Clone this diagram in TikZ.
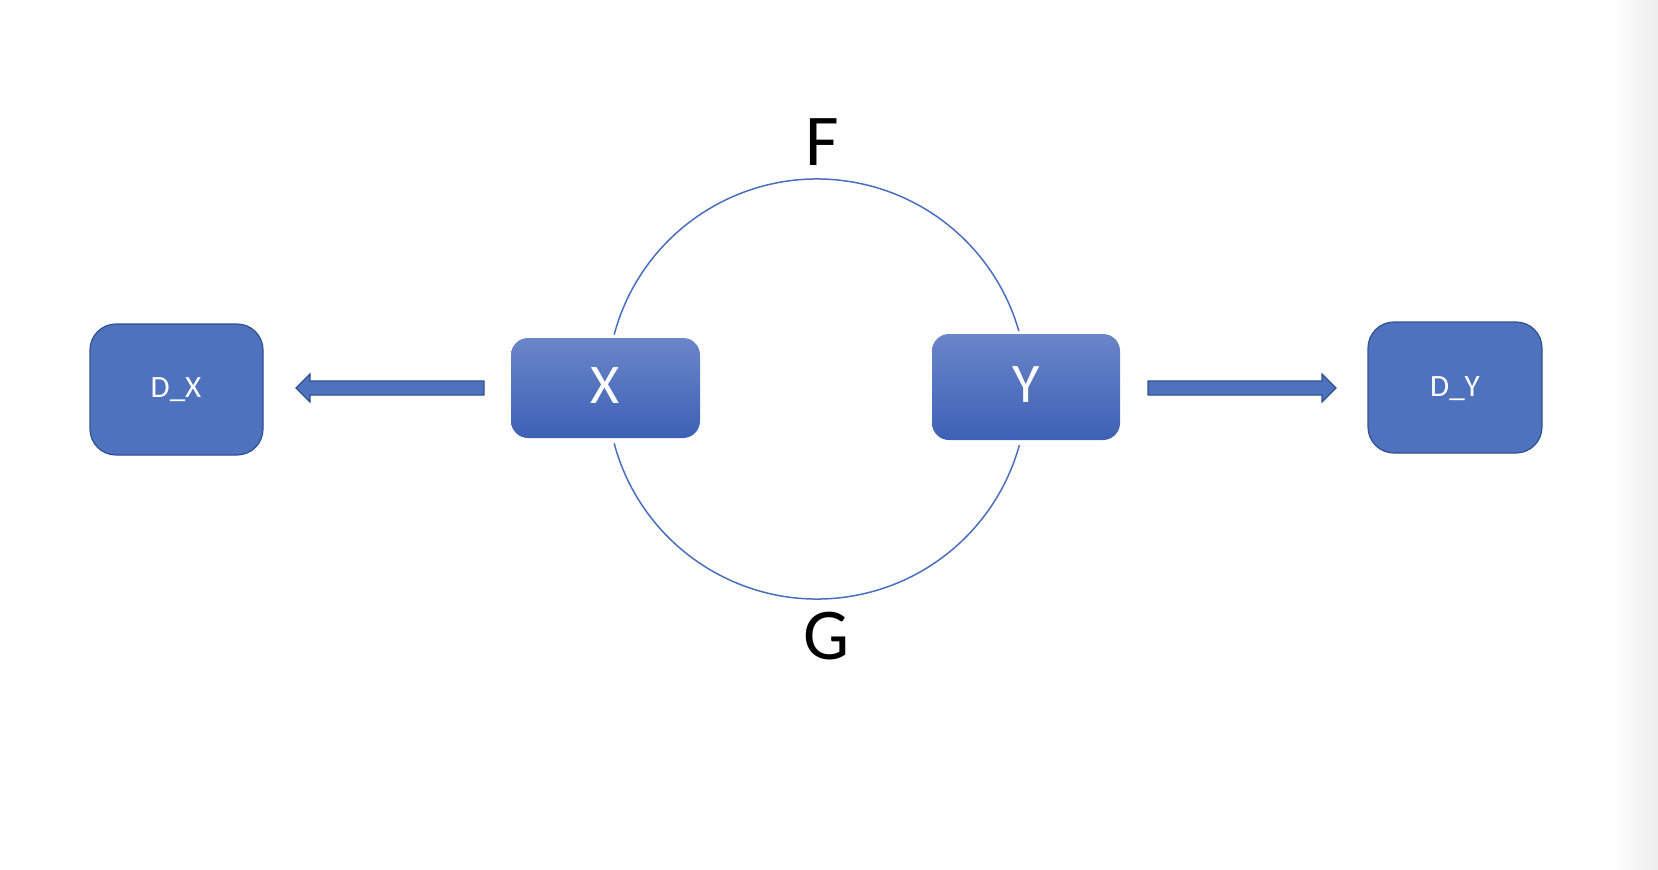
\documentclass[tikz,border=0pt]{standalone}
\usepackage{fontspec}
\setmainfont{Carlito}
\definecolor{boxblue}{HTML}{4E72BE}
\definecolor{boxedge}{HTML}{2F528F}
\definecolor{gtop}{HTML}{6A86C9}
\definecolor{gbot}{HTML}{3D61B5}
\definecolor{arcblue}{HTML}{4A6FBF}
\begin{document}
\begin{tikzpicture}[x=1pt,y=-1pt,
  dbox/.style={draw=boxedge,line width=1.2pt,fill=boxblue,rounded corners=26pt,text=white},
  gbox/.style={rounded corners=17pt,top color=gtop,bottom color=gbot,text=white},
  blockarrow/.style={draw=boxedge,line width=1.2pt,fill=boxblue,line join=miter},
  arcline/.style={draw=arcblue,line width=1.5pt}]
\useasboundingbox (0,0) rectangle (1658,870);
\fill[white] (0,0) rectangle (1658,870);
\shade[left color=white,right color=black!7] (1610,0) rectangle (1658,870);
% boxes
\path[dbox] (90,324) rectangle (263,455);
\node[text=white,font=\fontsize{31}{31}\selectfont] (dx) at (176,390) {D\_X};
\path[dbox] (1368,322) rectangle (1542,453);
\node[text=white,font=\fontsize{31}{31}\selectfont] (dy) at (1455,389) {D\_Y};
\path[gbox] (511,338) rectangle (700,438);
\node[text=white,font=\fontsize{56}{56}\selectfont] (x) at (605,386) {X};
\path[gbox] (932,334) rectangle (1120,440);
\node[text=white,font=\fontsize{56}{56}\selectfont] (y) at (1026,385) {Y};
% circle arcs
\coordinate (c) at (817,389);
\draw[arcline] (c) ++(165:210) arc[start angle=165,end angle=15.5,radius=210];
\draw[arcline] (c) ++(195:210) arc[start angle=195,end angle=344,radius=210];
\node[font=\fontsize{73}{73}\selectfont] (f) at (822,142) {F};
\node[font=\fontsize{73}{73}\selectfont] (g) at (827,636) {G};
% block arrows
\path[blockarrow] (484,381) -- (310,381) -- (310,374) -- (296,388) -- (310,402) -- (310,395) -- (484,395) -- cycle;
\path[blockarrow] (1148,381) -- (1322,381) -- (1322,374) -- (1336,388) -- (1322,402) -- (1322,395) -- (1148,395) -- cycle;
\end{tikzpicture}
\end{document}
